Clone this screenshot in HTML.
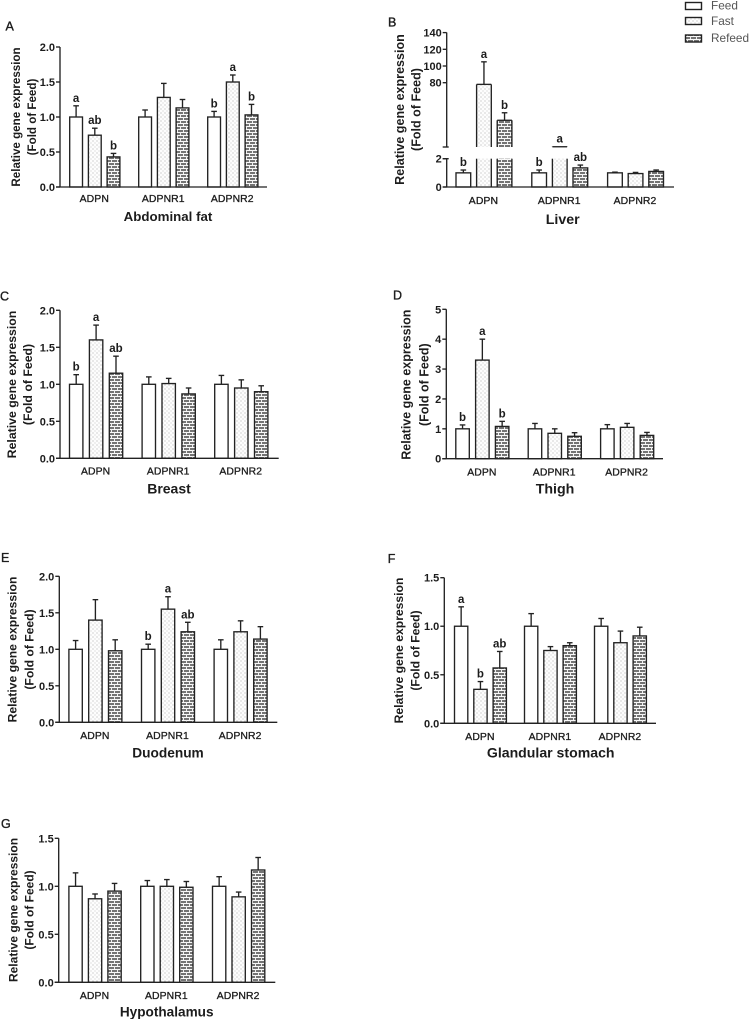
<!DOCTYPE html>
<html lang="en">
<head>
<meta charset="utf-8">
<title>Relative gene expression by tissue</title>
<style>
html,body{margin:0;padding:0;background:#fff;width:749px;height:1019px;overflow:hidden}
svg{display:block;filter:blur(0.35px)}
text{font-family:"Liberation Sans",Arial,sans-serif;fill:#1c1c1c}
</style>
</head>
<body>
<svg id="figure" xmlns="http://www.w3.org/2000/svg" width="749" height="1019" viewBox="0 0 749 1019">
<defs>
<pattern id="dots" width="4" height="4" patternUnits="userSpaceOnUse">
<rect width="4" height="4" fill="#fdfdfd"/>
<rect x="0.5" y="0.5" width="1" height="1" fill="#a8a8a8"/>
<rect x="2.5" y="2.5" width="1" height="1" fill="#c4c4c4"/>
</pattern>
<pattern id="bricks" width="6" height="6" patternUnits="userSpaceOnUse">
<rect width="6" height="6" fill="#747474"/>
<rect y="0" width="6" height="1" fill="#fafafa"/>
<rect y="3" width="6" height="1" fill="#fafafa"/>
<rect x="0" y="0" width="1" height="3" fill="#f0f0f0"/>
<rect x="3" y="3" width="1" height="3" fill="#f0f0f0"/>
</pattern>
</defs>

<g>
<rect x="685.5" y="2.5" width="16" height="7" fill="#fff" stroke="#222" stroke-width="1.4"/>
<text x="711" y="9.5" font-size="11.8" style="fill:#555">Feed</text>
<rect x="685.5" y="17.5" width="16" height="7" fill="url(#dots)" stroke="#222" stroke-width="1.4"/>
<text x="711" y="25" font-size="11.8" style="fill:#555">Fast</text>
<rect x="685.5" y="35" width="16" height="7" fill="url(#bricks)" stroke="#222" stroke-width="1.4"/>
<text x="711" y="42" font-size="11.8" style="fill:#555">Refeed</text>
</g>
</svg>

<script>
// Shared chart data
const categories = ['ADPN', 'ADPNR1', 'ADPNR2'];
const seriesNames = ['feed', 'fast', 'refeed'];
const yAxisLine1 = 'Relative gene expression';
const yAxisLine2 = '(Fold of Feed)';

// A: Abdominal fat
const abdominalMeans = [[1, 0.74, 0.43], [1, 1.28, 1.13], [1, 1.5, 1.03]];
const abdominalErrorTops = [[1.16, 0.84, 0.48], [1.1, 1.48, 1.25], [1.08, 1.6, 1.18]];
const abdominalLetters = [['a', 'ab', 'b'], ['', '', ''], ['b', 'a', 'b']];
const abdominalTicks = ['0.0', '0.5', '1.0', '1.5', '2.0'];

// B: Liver (broken axis)
const liverMeans = [[1, 78, 35], [1, 3.3, 1.35], [1, 0.95, 1.1]];
const liverErrorTops = [[1.2, 105, 44], [1.2, 3.3, 1.55], [1.05, 1.03, 1.2]];
const liverLetters = [['b', 'a', 'b'], ['b', 'a', 'ab'], ['', '', '']];
const liverTicks = ['0', '2', '80', '100', '120', '140'];

// C: Breast
const breastMeans = [[1, 1.6, 1.15], [1, 1.01, 0.87], [1, 0.95, 0.9]];
const breastErrorTops = [[1.13, 1.8, 1.38], [1.1, 1.08, 0.95], [1.12, 1.06, 0.98]];
const breastLetters = [['b', 'a', 'ab'], ['', '', ''], ['', '', '']];
const breastTicks = ['0.0', '0.5', '1.0', '1.5', '2.0'];

// D: Thigh
const thighMeans = [[1, 3.3, 1.08], [1, 0.85, 0.75], [1, 1.05, 0.78]];
const thighErrorTops = [[1.13, 4.0, 1.25], [1.18, 1.0, 0.87], [1.14, 1.18, 0.88]];
const thighLetters = [['b', 'a', 'b'], ['', '', ''], ['', '', '']];
const thighTicks = ['0', '1', '2', '3', '4', '5'];

// E: Duodenum
const duodenumMeans = [[1, 1.4, 0.98], [1, 1.55, 1.24], [1, 1.24, 1.14]];
const duodenumErrorTops = [[1.12, 1.68, 1.13], [1.07, 1.72, 1.37], [1.13, 1.39, 1.31]];
const duodenumLetters = [['', '', ''], ['b', 'a', 'ab'], ['', '', '']];
const duodenumTicks = ['0.0', '0.5', '1.0', '1.5', '2.0'];

// F: Glandular stomach
const stomachMeans = [[1, 0.35, 0.57], [1, 0.75, 0.8], [1, 0.83, 0.9]];
const stomachErrorTops = [[1.2, 0.43, 0.74], [1.13, 0.79, 0.83], [1.08, 0.95, 0.99]];
const stomachLetters = [['a', 'b', 'ab'], ['', '', ''], ['', '', '']];
const stomachTicks = ['0.0', '0.5', '1.0', '1.5'];

// G: Hypothalamus
const hypothalamusMeans = [[1, 0.87, 0.95], [1, 1.0, 0.99], [1, 0.89, 1.17]];
const hypothalamusErrorTops = [[1.14, 0.92, 1.03], [1.06, 1.07, 1.05], [1.1, 0.94, 1.3]];
const hypothalamusLetters = [['', '', ''], ['', '', ''], ['', '', '']];
const hypothalamusTicks = ['0.0', '0.5', '1.0', '1.5'];

const panels = [
  {id:'a', tag:'A', title:'Abdominal fat', means:abdominalMeans, tops:abdominalErrorTops, letters:abdominalLetters, ticks:abdominalTicks,
   max:2, ax:60, y0:187, yTop:47, end:267, left:69.7, w:12.8, step:18.7, group:69,
   tagX:5.5, tagY:30.5, t1:16, t2:32, tc:117, ts:11.6, catDy:15, titleDy:34, titleX:168, titleSize:13.3},
  {id:'b', tag:'B', title:'Liver', means:liverMeans, tops:liverErrorTops, letters:liverLetters, ticks:liverTicks,
   max:140, broken:true, ax:446.7, y0:187, yTop:32.5, end:674, left:456, w:14.7, step:20.6, group:75.8,
   tagX:388, tagY:26.7, t1:400, t2:416.7, tc:109.5, ts:12.55, catDy:17, titleDy:37, titleX:562.7, titleSize:14.2},
  {id:'c', tag:'C', title:'Breast', means:breastMeans, tops:breastErrorTops, letters:breastLetters, ticks:breastTicks,
   max:2, ax:60, y0:458.3, yTop:310.3, end:278.7, left:69.5, w:13.4, step:19.9, group:72.6,
   tagX:0, tagY:300.7, t1:12, t2:28, tc:384.5, ts:12.3, catDy:16, titleDy:35, titleX:169, titleSize:14},
  {id:'d', tag:'D', title:'Thigh', means:thighMeans, tops:thighErrorTops, letters:thighLetters, ticks:thighTicks,
   max:5, ax:446.3, y0:458.7, yTop:309.3, end:663, left:455.8, w:13.5, step:19.8, group:72.4,
   tagX:393, tagY:299.3, t1:406.7, t2:424.3, tc:384.7, ts:12.5, catDy:17, titleDy:35, titleX:555, titleSize:14.2},
  {id:'e', tag:'E', title:'Duodenum', means:duodenumMeans, tops:duodenumErrorTops, letters:duodenumLetters, ticks:duodenumTicks,
   max:2, ax:59.3, y0:722.3, yTop:576.3, end:277.3, left:68.9, w:13.4, step:19.8, group:72.6,
   tagX:1, tagY:562, t1:12.7, t2:29.3, tc:649.5, ts:12.15, catDy:16.5, titleDy:35, titleX:168, titleSize:13.7},
  {id:'f', tag:'F', title:'Glandular stomach', means:stomachMeans, tops:stomachErrorTops, letters:stomachLetters, ticks:stomachTicks,
   max:1.5, ax:444.3, y0:723.3, yTop:577.7, end:656, left:454.5, w:13.3, step:19.3, group:70,
   tagX:387.7, tagY:563, t1:399, t2:415.7, tc:650.5, ts:12.15, catDy:16.5, titleDy:34, titleX:550.7, titleSize:14.1},
  {id:'g', tag:'G', title:'Hypothalamus', means:hypothalamusMeans, tops:hypothalamusErrorTops, letters:hypothalamusLetters, ticks:hypothalamusTicks,
   max:1.5, ax:58.7, y0:982.3, yTop:838.3, end:275.3, left:68.9, w:13.3, step:19.5, group:71.8,
   tagX:1, tagY:828, t1:13.3, t2:29.3, tc:910, ts:12, catDy:16.5, titleDy:34, titleX:166.7, titleSize:13.6}
];

const svg = document.getElementById('figure');
const NS = 'http://www.w3.org/2000/svg';
const INK = '#222';
const LINE = 1.35;
const fills = {feed:'#fff', fast:'url(#dots)', refeed:'url(#bricks)'};

function make(parent, tag, attrs, content) {
  const el = document.createElementNS(NS, tag);
  for (const k in attrs) el.setAttribute(k, attrs[k]);
  if (content !== undefined) el.textContent = content;
  parent.appendChild(el);
  return el;
}
function segment(parent, x1, y1, x2, y2) {
  return make(parent, 'line', {x1:x1, y1:y1, x2:x2, y2:y2, stroke:INK, 'stroke-width':LINE});
}

// Value-to-pixel axis functions
function yScale(p) {
  if (p.broken) {
    const lowerTop = 158.7, upperBottom = 147, breakValue = 3, perUnit = 0.835;
    return function (v) {
      if (v <= 2) return p.y0 - v * (p.y0 - lowerTop) / 2;
      return upperBottom - (v - breakValue) * perUnit;
    };
  }
  return function (v) { return p.y0 - v * (p.y0 - p.yTop) / p.max; };
}
function xScale(p, groupIndex, seriesIndex) {
  return p.left + groupIndex * p.group + seriesIndex * p.step;
}

function drawAxes(g, p, y) {
  const axis = make(g, 'g', {});
  
  
  if (p.broken) {
    segment(axis, p.ax, p.y0, p.ax, y(2));
    segment(axis, p.ax, y(3), p.ax, p.yTop);
    segment(axis, p.ax - 4, y(3), p.ax + 2, y(3));
    segment(axis, p.ax - 4, y(2), p.ax + 2, y(2));
  } else {
    segment(axis, p.ax, p.y0, p.ax, p.yTop);
  }
  p.ticks.forEach(function (label) {
    const ty = y(parseFloat(label));
    segment(axis, p.ax - 4, ty, p.ax, ty);
    const t = make(axis, 'text', {x:p.ax - 5, y:ty + 4, 'text-anchor':'end', 'font-size':11, 'font-weight':'bold'}, label);
    
    
  });
  const xAxis = segment(g, p.ax - 4, p.y0, p.end, p.y0);
  
  

  const l1 = make(g, 'text', {transform:'translate(' + (p.t1 + 4) + ',' + p.tc + ') rotate(-90)', 'text-anchor':'middle', 'font-size':p.ts, 'font-weight':'bold'}, yAxisLine1);
  
  
  const l2 = make(g, 'text', {transform:'translate(' + (p.t2 + 4) + ',' + p.tc + ') rotate(-90)', 'text-anchor':'middle', 'font-size':p.ts, 'font-weight':'bold'}, yAxisLine2);
  
  
}

function drawBar(g, p, y, gi, si) {
  const name = seriesNames[si];
  const value = p.means[gi][si];
  const errTop = p.tops[gi][si];
  const x = xScale(p, gi, si);
  const barGroup = make(g, 'g', {});
  
  
  const cx = x + p.w / 2;

  if (errTop > value) {
    segment(barGroup, cx, y(value), cx, y(errTop));
    segment(barGroup, cx - 2.8, y(errTop), cx + 2.8, y(errTop));
  }
  if (p.broken && value > 2) {
    const low = y(2);
    const up = y(3);
    make(barGroup, 'rect', {x:x, y:low, width:p.w, height:p.y0 - low, fill:fills[name], stroke:'none'});
    segment(barGroup, x, low, x, p.y0);
    segment(barGroup, x + p.w, low, x + p.w, p.y0);
    const top = y(value);
    make(barGroup, 'rect', {x:x, y:top, width:p.w, height:up - top, fill:fills[name], stroke:'none'});
    segment(barGroup, x, top, x + p.w, top);
    segment(barGroup, x, top, x, up);
    segment(barGroup, x + p.w, top, x + p.w, up);
  } else {
    const top = y(value);
    make(barGroup, 'rect', {x:x, y:top, width:p.w, height:p.y0 - top, fill:fills[name], stroke:INK, 'stroke-width':LINE});
  }

  const letter = p.letters[gi][si];
  if (letter) {
    const t = make(g, 'text', {x:cx, y:y(errTop) - 4, 'text-anchor':'middle', 'font-size':11.5, 'font-weight':'bold'}, letter);
    
    
  }
}

function drawPanel(p) {
  const g = make(svg, 'g', {});
  
  
  const y = yScale(p);

  const tag = make(g, 'text', {x:p.tagX, y:p.tagY, 'font-size':12.5, stroke:'#1c1c1c', 'stroke-width':'0.35'}, p.tag);
  
  

  categories.forEach(function (cat, gi) {
    seriesNames.forEach(function (s, si) { drawBar(g, p, y, gi, si); });
    const cx = xScale(p, gi, 1) + p.w / 2 - 0.5;
    const label = make(g, 'text', {x:cx, y:p.y0 + p.catDy, 'text-anchor':'middle', 'font-size':10.4, 'letter-spacing':'0.1', stroke:'#1c1c1c', 'stroke-width':'0.3'}, cat);
    
    
  });
  drawAxes(g, p, y);

  const title = make(g, 'text', {x:p.titleX, y:p.y0 + p.titleDy, 'text-anchor':'middle', 'font-size':p.titleSize, 'font-weight':'bold'}, p.title);
  
  
}

panels.forEach(drawPanel);
</script>
</body>
</html>
